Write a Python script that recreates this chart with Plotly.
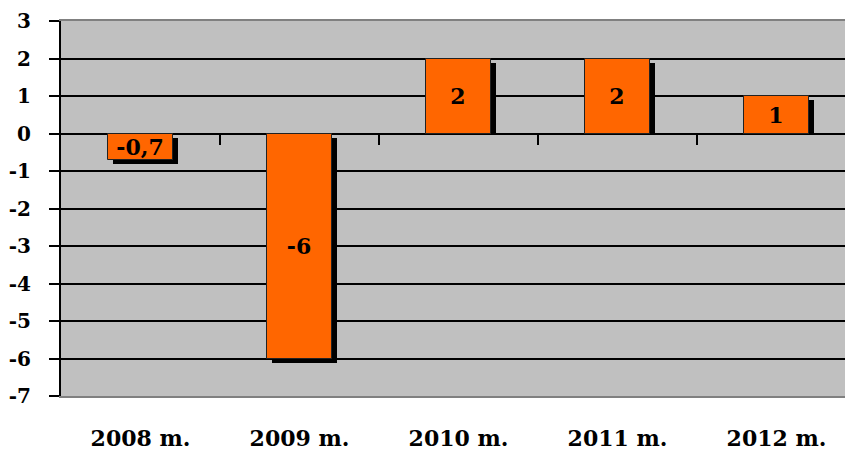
import plotly.graph_objects as go

categories = ["2008 m.", "2009 m.", "2010 m.", "2011 m.", "2012 m."]
values = [-0.7, -6, 2, 2, 1]
labels = ["-0,7", "-6", "2", "2", "1"]
y_ticks = [3, 2, 1, 0, -1, -2, -3, -4, -5, -6, -7]

FONT = "DejaVu Serif"
ORANGE = "#FF6600"
GRAY_BG = "#C0C0C0"

W, H = 845, 450
ML, MR, MT, MB = 61, 0, 21, 54
plot_w = W - ML - MR
plot_h = H - MT - MB
y_min, y_max = -7, 3
px_per_unit_y = plot_h / (y_max - y_min)
cat_px = 159.0
x_lo = -0.5
x_hi = x_lo + plot_w / cat_px
bar_w = 0.41

# shadow offsets (pixels -> data units)
dx = 5 / cat_px
dy = 4 / px_per_unit_y
shadow_base = [(-dy if v < 0 else 0) for v in values]
shadow_len = [(v - dy) - b for v, b in zip(values, shadow_base)]

fig = go.Figure()

fig.add_trace(go.Bar(
    x=categories, y=shadow_len, base=shadow_base,
    width=bar_w, offset=-bar_w / 2 + dx,
    marker=dict(color="black", line=dict(width=0)),
    hoverinfo="skip", showlegend=False,
))

fig.add_trace(go.Bar(
    x=categories, y=values, width=bar_w,
    marker=dict(color=ORANGE, line=dict(color="#222222", width=1)),
    text=labels, textposition="inside", insidetextanchor="middle",
    constraintext="none",
    textfont=dict(family=FONT, size=22, color="black", weight="bold"),
    showlegend=False,
))

# dummy trace for the tick-mark axis at y=0
fig.add_trace(go.Scatter(x=[], y=[], xaxis="x2", yaxis="y", showlegend=False))

fig.update_layout(
    width=W, height=H,
    margin=dict(l=ML, r=MR, t=MT, b=MB, pad=0, autoexpand=False),
    paper_bgcolor="white",
    plot_bgcolor=GRAY_BG,
    barmode="overlay",
    bargap=0,
    xaxis=dict(
        type="category",
        range=[x_lo, x_hi],
        automargin=False,
        showgrid=False, zeroline=False,
        showline=True, linecolor="#808080", linewidth=2, mirror=True,
        ticks="",
        tickfont=dict(family=FONT, size=22, color="black", weight="bold"),
        ticklabelstandoff=22,
    ),
    xaxis2=dict(
        overlaying="x", anchor="free", position=(0 - y_min) / (y_max - y_min),
        type="linear", range=[x_lo, x_hi], automargin=False,
        tickvals=[0.5, 1.5, 2.5, 3.5],
        ticks="outside", ticklen=10, tickwidth=2, tickcolor="black",
        showticklabels=False, showgrid=False, zeroline=False, showline=False,
    ),
    yaxis=dict(
        range=[y_min, y_max],
        automargin=False,
        tickvals=y_ticks,
        ticktext=[str(t) for t in y_ticks],
        showgrid=True, gridcolor="black", gridwidth=2,
        zeroline=True, zerolinecolor="black", zerolinewidth=2,
        showline=True, linecolor="black", linewidth=2,
        ticks="outside", ticklen=10, tickwidth=2, tickcolor="black",
        tickfont=dict(family=FONT, size=20, color="black", weight="bold"),
        ticklabelstandoff=14,
    ),
)

fig.write_html(
    "out.html",
    config={"displayModeBar": False},
    post_script="document.body.style.margin='0';document.body.style.overflow='hidden';",
)
